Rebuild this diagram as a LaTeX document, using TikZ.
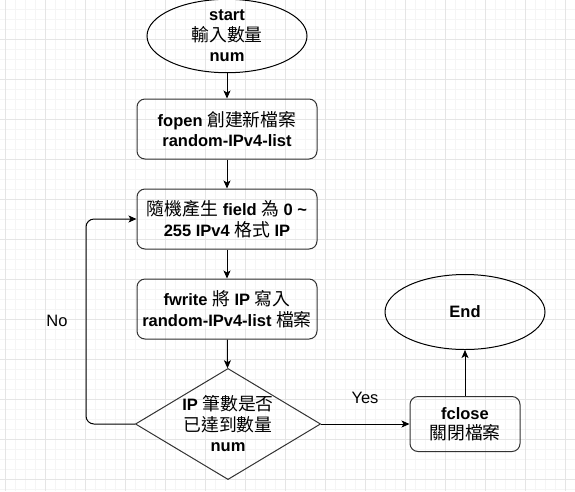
\documentclass[tikz,border=0pt]{standalone}
\usepackage{fontspec}
\setmainfont{Liberation Sans}
\newfontfamily\zhfont[Scale=1.08]{Noto Sans CJK TC}
\newcommand{\zh}[1]{{\zhfont\mdseries #1}}
\usetikzlibrary{arrows.meta,positioning,shapes.geometric}
\tikzstyle{terminal}=[
	ellipse,
	draw=black,
	align=center,
	minimum width=160,
	minimum height=56,
	inner sep=0]
\tikzstyle{process}=[
	rectangle,
	draw=black!80,
	align=center,
	rounded corners=8,
	minimum width=180,
	minimum height=60,
	inner sep=0]
\tikzstyle{decision}=[
	diamond,
	draw=black!80,
	align=center,
	aspect=1.667,
	minimum width=180,
	minimum height=108,
	inner sep=0]
\tikzstyle{flow}=[
	draw=black,
	->]
\tikzstyle{branch}=[
	font=\mdseries\fontsize{16.5}{20}\selectfont]
\tikzstyle{minorgrid}=[
	draw=black!4,
	line width=.8]
\tikzstyle{majorgrid}=[
	draw=black!10,
	line width=.8]
\begin{document}
\begin{tikzpicture}[x=1pt,y=-1pt,line width=1,>={Stealth[length=8,width=7,inset=2]},
	every node/.style={font=\bfseries\fontsize{16.5}{20.5}\selectfont}]
	\useasboundingbox (0,0) rectangle (575,491);
	% background grid
	\fill[white] (0,0) rectangle (575,491);
	\foreach \x in {5,15,...,575} \draw[minorgrid] (\x,0) -- (\x,491);
	\foreach \y in {9,19,...,491} \draw[minorgrid] (0,\y) -- (575,\y);
	\foreach \x in {5,45,...,575} \draw[majorgrid] (\x,0) -- (\x,491);
	\foreach \y in {39,79,...,491} \draw[majorgrid] (0,\y) -- (575,\y);
	% main column
	\node[terminal]	(start)	at (227,36)	{start\\\zh{輸入數量}\\num};
	\node[process]	(open)	at (227,129)	{fopen \zh{創建新檔案}\\random-IPv4-list};
	\node[process]	(gen)	at (227,219)	{\zh{隨機產生} field \zh{為} 0 \textasciitilde\\255 IPv4 \zh{格式} IP};
	\node[process]	(write)	at (227,309)	{fwrite \zh{將} IP \zh{寫入}\\random-IPv4-list \zh{檔案}};
	\node[decision]	(check)	at (228,424)	{IP \zh{筆數是否}\\\zh{已達到數量}\\num};
	% right column
	\node[process,minimum width=110,minimum height=55]	(close)	at (465,424)	{fclose\\\zh{關閉檔案}};
	\node[terminal,minimum height=75]	(end)	at (465,312)	{End};
	% connectors
	\draw[flow] (start) -- (open);
	\draw[flow] (open) -- (gen);
	\draw[flow] (gen) -- (write);
	\draw[flow] (write) -- (check);
	\draw[flow] (check) -- (close);
	\draw[flow] (close) -- (end);
	\draw[flow,rounded corners=8] (check.west) -- (86,424) -- (86,219) -- (gen.west);
	\node[branch] (yes) at (365,398) {Yes};
	\node[branch] (no) at (57,321) {No};
\end{tikzpicture}
\end{document}
